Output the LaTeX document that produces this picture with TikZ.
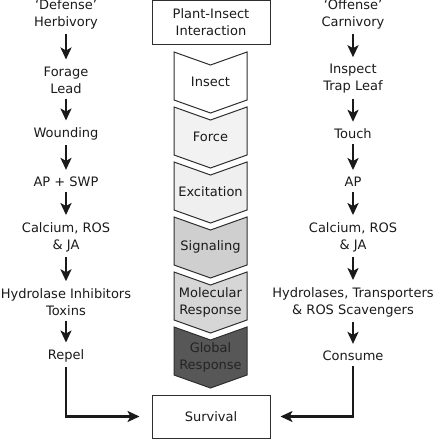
\documentclass[tikz,border=0pt]{standalone}
\usepackage{fontspec}
\setmainfont{DejaVu Sans}
\usetikzlibrary{arrows.meta}
\definecolor{txt}{HTML}{1A1A1A}
\definecolor{edge}{HTML}{2E2E2E}
\definecolor{fInsect}{HTML}{FFFFFF}
\definecolor{fForce}{HTML}{F2F2F2}
\definecolor{fExc}{HTML}{EFEFEF}
\definecolor{fSig}{HTML}{CFCFCF}
\definecolor{fMol}{HTML}{D6D6D6}
\definecolor{fGlob}{HTML}{575757}
\begin{document}
\begin{tikzpicture}[x=1pt,y=-1pt,
  lbl/.style={font=\fontsize{13}{17}\selectfont, align=center, inner sep=0pt, text=txt},
  arr/.style={-{Stealth[length=12pt,width=11pt,inset=3pt]}, line width=2.9pt, draw=txt, shorten <=5pt, shorten >=7pt},
  bigbox/.style={draw=edge, line width=1pt, minimum width=118pt, inner sep=0pt, fill=white},
  chev/.style={draw=edge, line width=1pt, line join=miter}]
\useasboundingbox (0,0) rectangle (435,440);

% center boxes
\node[bigbox, minimum height=44pt, lbl] (pi) at (211,22) {Plant-Insect\\Interaction};
\node[bigbox, minimum height=43pt, lbl] (surv) at (211,416.5) {Survival};

% chevrons
\foreach \i/\c in {0/fInsect,1/fForce,2/fExc,3/fSig,4/fMol,5/fGlob}{
  \pgfmathsetmacro{\ya}{52+55*\i}
  \pgfmathsetmacro{\yb}{65+55*\i}
  \pgfmathsetmacro{\yc}{100+55*\i}
  \pgfmathsetmacro{\yd}{113+55*\i}
  \draw[chev, fill=\c] (174,\ya) -- (210.5,\yb) -- (247,\ya) -- (247,\yc) -- (210.5,\yd) -- (174,\yc) -- cycle;
}
\node[lbl] (c1) at (210.5,82) {Insect};
\node[lbl] (c2) at (210.5,137) {Force};
\node[lbl] (c3) at (210.5,192) {Excitation};
\node[lbl] (c4) at (210.5,247) {Signaling};
\node[lbl] (c5) at (210.5,302) {Molecular\\Response};
\node[lbl, text=black!86] (c6) at (210.5,357) {Global\\Response};

% left column
\node[lbl] (l1) at (66,14) {‘Defense’\\Herbivory};
\node[lbl] (l2) at (66,80) {Forage\\Lead};
\node[lbl] (l3) at (66,134) {Wounding};
\node[lbl] (l4) at (66,182) {AP + SWP};
\node[lbl] (l5) at (66,237) {Calcium, ROS\\\& JA};
\node[lbl] (l6) at (66,302) {Hydrolase Inhibitors\\Toxins};
\node[lbl] (l7) at (66,356) {Repel};

% right column
\node[lbl] (r1) at (353,14) {‘Offense’\\Carnivory};
\node[lbl] (r2) at (353,79) {Inspect\\Trap Leaf};
\node[lbl] (r3) at (353,134) {Touch};
\node[lbl] (r4) at (353,182) {AP};
\node[lbl] (r5) at (353,237) {Calcium, ROS\\\& JA};
\node[lbl] (r6) at (353,302) {Hydrolases, Transporters\\\& ROS Scavengers};
\node[lbl] (r7) at (353,356) {Consume};

\foreach \a/\b in {l1/l2,l2/l3,l3/l4,l4/l5,l5/l6,l6/l7,r1/r2,r2/r3,r3/r4,r4/r5,r5/r6,r6/r7}{
  \draw[arr] (\a.south) -- (\b.north);
}
\draw[arr, shorten >=12pt] (l7.south) |- (surv.west);
\draw[arr, shorten >=10pt] (r7.south) |- (surv.east);
\end{tikzpicture}
\end{document}
